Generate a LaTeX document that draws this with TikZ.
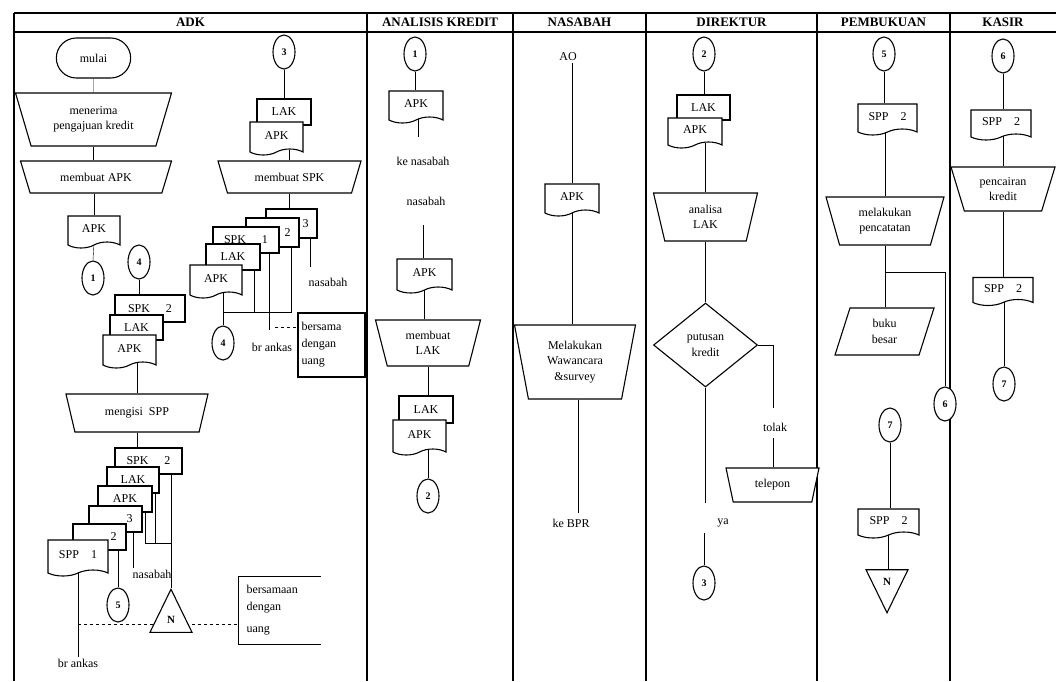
\documentclass[tikz,border=0pt]{standalone}
\usepackage{fontspec}
\setmainfont{Liberation Serif}
\usetikzlibrary{positioning,shapes.geometric,shapes.misc,shapes.symbols,calc,backgrounds}
\tikzset{
  lanehead/.style={font=\fontsize{13}{15}\selectfont\bfseries},
  lbl/.style={inner sep=1pt},
  term/.style={rounded rectangle,draw,fill=white,minimum width=81pt,minimum height=40pt},
  conn/.style={ellipse,draw,fill=white,minimum width=22pt,minimum height=34pt,inner sep=0pt,
    font=\fontsize{10}{12}\selectfont\bfseries},
  docu/.style 2 args={tape,draw,fill=white,tape bend top=none,tape bend bottom=in and out,
    tape bend height=6pt,minimum width=#1,minimum height=#2,inner sep=1pt},
  sheet/.style 2 args={rectangle,draw,fill=white,minimum width=#1,minimum height=#2,inner sep=0pt},
  manop/.style n args={3}{trapezium,draw,fill=white,shape border rotate=180,
    trapezium stretches body,trapezium left angle=#1,trapezium right angle=#1,
    minimum width=#2,minimum height=#3,inner sep=1pt,align=center},
  para/.style={trapezium,draw,fill=white,trapezium stretches body,trapezium left angle=60,
    trapezium right angle=120,minimum width=99pt,minimum height=47pt,inner sep=1pt,align=center},
  decision/.style={diamond,draw,fill=white,minimum width=104pt,minimum height=84pt,
    inner sep=0pt,align=center},
  tri/.style={isosceles triangle,draw,fill=white,isosceles triangle apex angle=52,
    minimum size=42pt,inner sep=0pt,font=\fontsize{11}{12}\selectfont\bfseries},
  note/.style={minimum width=#1,inner sep=0pt,align=left,font=\fontsize{12}{17}\selectfont},
}
\begin{document}
\begin{tikzpicture}[x=1pt,y=-1pt,line width=1.1pt,
  every node/.append style={font=\fontsize{12}{15.5}\selectfont}]
\useasboundingbox (0,0) rectangle (1056,681);
% lanes
\draw[line width=1.5pt] (14,13) -- (1056,13) (14,32) -- (1056,32);
\foreach \x in {14,367,513,646,817,950} \draw[line width=1.1pt] (\x,13) -- (\x,681);
\foreach \t/\x/\n in {ADK/190.5/adk,ANALISIS KREDIT/440/ak,NASABAH/579.5/nas,
  DIREKTUR/731.5/dir,PEMBUKUAN/883.5/pbk,KASIR/1003/ksr}
  \node[lanehead] (h\n) at (\x,22.5) {\t};

% ADK, left column
\node[term] (mulai) at (93.5,58) {mulai};
\node[manop={60.9}{156pt}{53pt}] (terima) at (93.5,119.5) {menerima\\pengajuan kredit};
\node[manop={47.3}{151pt}{32pt}] (buatapk) at (96,177) {membuat APK};
\node[docu={52pt}{32pt}] (apk1) at (94,229) {APK};
\node[conn] (k1) at (93,278) {1};

% ADK, right column
\node[conn] (k3) at (284,52) {3};
\node[sheet={54pt}{26pt}] (lak1) at (284,112) {LAK};
\node[docu={53pt}{33pt}] (apk2) at (276.5,135.5) {APK};
\node[manop={47.8}{143pt}{32pt}] (buatspk) at (289.5,177) {membuat SPK};
\node[sheet={51pt}{29pt}] (spk3) at (291.5,223.5) {\makebox[34pt][r]{3}};
\node[sheet={53pt}{29pt}] (spk2) at (272.5,232.5) {\makebox[36pt][r]{2}};
\node[sheet={66pt}{26pt}] (spk1) at (246,240) {\makebox[44pt]{SPK\hfill 1}};
\node[sheet={54pt}{26pt}] (lak2) at (233,257) {LAK};
\node[docu={52pt}{33pt}] (apk3) at (216,278.5) {APK};
\node[conn] (k4b) at (223,343) {4};
\node[lbl] (nas1) at (328,282) {nasabah};
\node[lbl] (bra1) at (272,347) {br ankas};
\node[note=67pt,draw,text width=60pt,minimum height=64pt] (uang1) at (331.5,345) {bersama\\dengan\\uang};

% ADK, middle
\node[conn] (k4a) at (139,262) {4};
\node[sheet={70pt}{27pt}] (spk4) at (150,308.5) {\makebox[44pt]{SPK\hfill 2}};
\node[sheet={53pt}{25pt}] (lak3) at (136.5,327.5) {LAK};
\node[docu={53pt}{33pt}] (apk4) at (129.5,348.5) {APK};
\node[manop={54.6}{142pt}{38pt}] (isispp) at (137,413) {mengisi\ \ SPP};

% ADK, bottom
\node[sheet={67pt}{26pt}] (spk5) at (148.5,461) {\makebox[44pt]{SPK\hfill 2}};
\node[sheet={52pt}{26pt}] (lak4) at (133,480) {LAK};
\node[sheet={54pt}{26pt}] (apk5) at (125,499) {APK};
\node[sheet={53pt}{26pt}] (spp3) at (115.5,519) {\makebox[34pt][r]{3}};
\node[sheet={53pt}{26pt}] (spp2) at (99.5,537) {\makebox[34pt][r]{2}};
\node[docu={60pt}{36pt}] (spp1) at (78,555) {SPP\quad 1};
\node[lbl] (nas2) at (152,574) {nasabah};
\node[conn] (k5a) at (118,605) {5};
\node[tri,shape border rotate=90,anchor=apex] (n1) at (171,588) {N};
\node[lbl] (bra2) at (78,663) {br ankas};
\node[note=81pt,text width=66pt,minimum height=67pt] (uang2) at (279.5,610.5) {bersamaan\\dengan\\[5pt]uang};

% ANALISIS KREDIT
\node[conn] (k1b) at (415,54) {1};
\node[docu={54pt}{32pt}] (apk6) at (416,104) {APK};
\node[lbl] (kenas) at (423,161) {ke nasabah};
\node[lbl] (nas3) at (426,201) {nasabah};
\node[docu={55pt}{34pt}] (apk7) at (424.5,273) {APK};
\node[manop={65.5}{105pt}{46pt}] (buatlak) at (428,343) {membuat\\LAK};
\node[sheet={54pt}{27pt}] (lak5) at (426,409.5) {LAK};
\node[docu={53pt}{35pt}] (apk8) at (419.5,434.5) {APK};
\node[conn] (k2a) at (428,496) {2};

% NASABAH
\node[lbl] (ao) at (568,57) {AO};
\node[docu={54pt}{32pt}] (apk9) at (572,197) {APK};
\node[manop={72.4}{121pt}{74pt}] (wawancara) at (575,362) {Melakukan\\Wawancara\\\&survey};
\node[lbl] (kebpr) at (571,523) {ke BPR};

% DIREKTUR
\node[conn] (k2b) at (704,54) {2};
\node[sheet={53pt}{25pt}] (lak6) at (703.5,107.5) {LAK};
\node[docu={54pt}{30pt}] (apk10) at (695,130) {APK};
\node[manop={66.4}{104pt}{48pt}] (analisa) at (705.5,217) {analisa\\LAK};
\node[decision] (putusan) at (705.5,345) {putusan\\kredit};
\node[lbl] (tolak) at (775,427) {tolak};
\node[manop={60.8}{93pt}{34pt}] (telepon) at (772.5,485) {telepon};
\node[lbl] (ya) at (723,523) {ya};
\node[conn] (k3b) at (704,583) {3};

% PEMBUKUAN
\node[conn] (k5b) at (884,54) {5};
\node[docu={59pt}{31pt}] (spp4) at (887.5,116.5) {SPP\quad 2};
\node[manop={64.4}{118pt}{48pt}] (catat) at (885,221) {melakukan\\pencatatan};
\node[para] (buku) at (884.5,331.5) {buku\\besar};
\node[conn] (k6a) at (945,404) {6};
\node[conn] (k7a) at (890,425) {7};
\node[docu={61pt}{29pt}] (spp5) at (888.5,520.5) {SPP\quad 2};
\node[tri,shape border rotate=270,anchor=apex] (n2) at (887,614) {N};

% KASIR
\node[conn] (k6b) at (1003,56) {6};
\node[docu={60pt}{30pt}] (spp6) at (1001,122) {SPP\quad 2};
\node[manop={62.4}{104pt}{44pt}] (cair) at (1003,189) {pencairan\\kredit};
\node[docu={60pt}{28pt}] (spp7) at (1003,288.5) {SPP\quad 2};
\node[conn] (k7b) at (1004,384) {7};

% free ends of the lines
\coordinate (e1) at (310,267);
\coordinate (j1) at (291,312);
\coordinate (j2) at (254,312);
\coordinate (e2) at (269,330);
\coordinate (d1) at (275,327);
\coordinate (j4) at (145,543);
\coordinate (j5) at (155,543);
\coordinate (e3) at (133,568);
\coordinate (d2) at (78,624);
\coordinate (e4) at (418,137);
\coordinate (e5) at (423,225);
\coordinate (e6) at (773,408);
\coordinate (e7) at (773,438);
\coordinate (e8) at (705,503);
\coordinate (e9) at (704,533);
\coordinate (e10) at (578,513);
\coordinate (j6) at (885,272);

\begin{scope}[on background layer]
  % ADK
  \draw (mulai.south) -- (terima.north);
  \draw (terima.south) -- (terima.south |- buatapk.north);
  \draw (apk1.north |- buatapk.south) -- (apk1.north);
  \draw (apk1.south) -- (k1.north);
  \draw (k3.south) -- (k3.south |- lak1.north);
  \draw (buatspk.north |- apk2.south) -- (buatspk.north);
  \draw (buatspk.south) -- (buatspk.south |- spk3.north);
  \draw (e1 |- spk3.south) -- (e1);
  \draw (j1 |- spk2.south) -- (j1) -- (j1 -| k4b.north);
  \draw (j2 |- lak2.south) -- (j2);
  \draw (e2 |- spk1.south) -- (e2);
  \draw (k4b.north |- apk3.south) -- (k4b.north);
  \draw[dashed] (d1) -- (d1 -| uang1.west);
  \draw (k4a.south) -- (k4a.south |- spk4.north);
  \draw (isispp.north |- apk4.south) -- (isispp.north);
  \draw (isispp.south) -- (isispp.south |- spk5.north);
  \draw (n1.apex |- spk5.south) -- (n1.apex);
  \draw (j4 |- apk5.south) -- (j4) -- (j4 -| n1.apex);
  \draw (j5 |- lak4.south) -- (j5);
  \draw (e3 |- spp3.south) -- (e3);
  \draw (k5a.north |- spp2.south) -- (k5a.north);
  \draw (spp1.south) -- (bra2.north);
  \draw[dashed] (d2) -- (d2 -| uang2.west);
  \draw (uang2.north east) -- (uang2.north west) -- (uang2.south west) -- (uang2.south east);
  % ANALISIS KREDIT
  \draw (k1b.south) -- (k1b.south |- apk6.north);
  \draw (e4 |- apk6.south) -- (e4);
  \draw (e5) -- (e5 |- apk7.north);
  \draw (apk7.south) -- (apk7.south |- buatlak.north);
  \draw (buatlak.south) -- (buatlak.south |- lak5.north);
  \draw (k2a.north |- apk8.south) -- (k2a.north);
  % NASABAH
  \draw (apk9.north |- ao.south) -- (apk9.north);
  \draw (apk9.south) -- (apk9.south |- wawancara.north);
  \draw (e10 |- wawancara.south) -- (e10);
  % DIREKTUR
  \draw (k2b.south) -- (k2b.south |- lak6.north);
  \draw (analisa.north |- apk10.south) -- (analisa.north);
  \draw (analisa.south) -- (analisa.south |- putusan.north);
  \draw (putusan.east) -- (putusan.east -| e6) -- (e6);
  \draw (e7) -- (e7 |- telepon.north);
  \draw (putusan.south) -- (putusan.south |- e8);
  \draw (e9) -- (k3b.north);
  % PEMBUKUAN
  \draw (k5b.south) -- (k5b.south |- spp4.north);
  \draw (catat.north |- spp4.south) -- (catat.north);
  \draw (catat.south) -- (catat.south |- buku.north);
  \draw (j6) -- (j6 -| k6a.north) -- (k6a.north);
  \draw (k7a.south) -- (k7a.south |- spp5.north);
  \draw (spp5.south) -- (spp5.south |- n2.lower side);
  % KASIR
  \draw (k6b.south) -- (k6b.south |- spp6.north);
  \draw (cair.north |- spp6.south) -- (cair.north);
  \draw (cair.south) -- (cair.south |- spp7.north);
  \draw (k7b.north |- spp7.south) -- (k7b.north);
\end{scope}
\end{tikzpicture}
\end{document}
